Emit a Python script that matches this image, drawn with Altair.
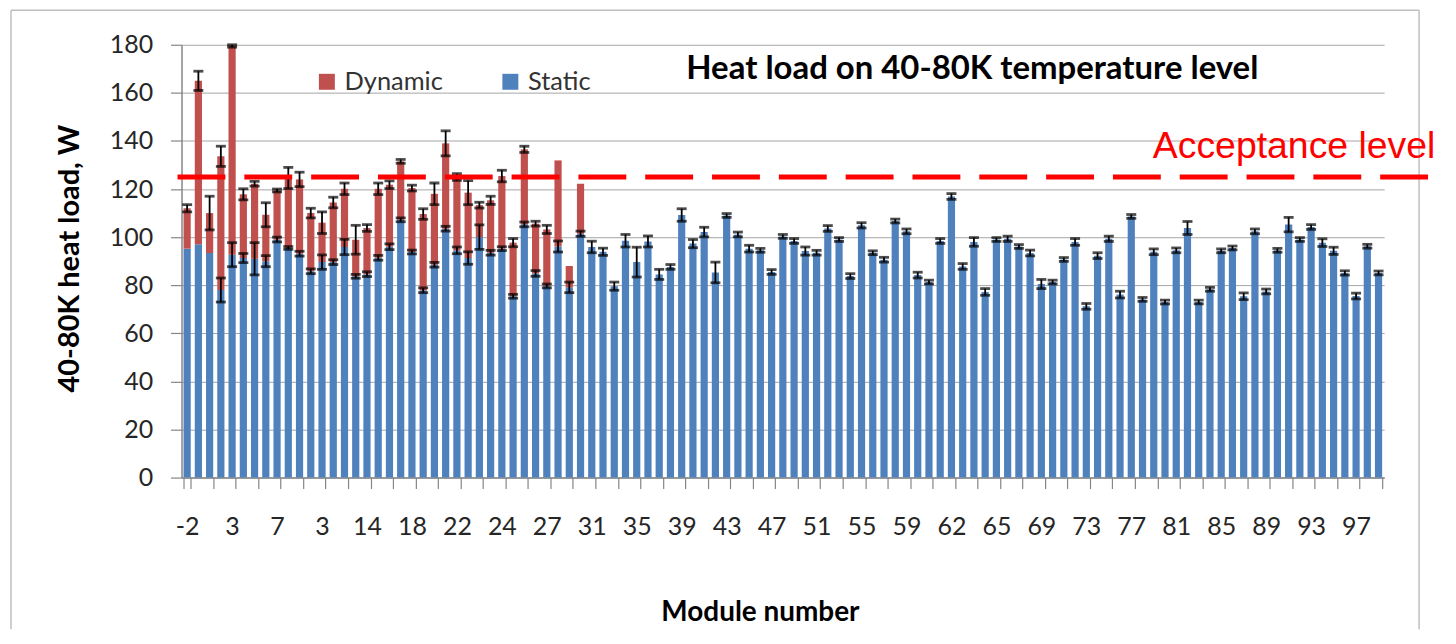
import altair as alt
import pandas as pd

# ---------------- data ----------------
tick_labels = ["-2", "3", "7", "3", "14", "18", "22", "24", "27", "31", "35", "39", "43", "47",
               "51", "55", "59", "62", "65", "69", "73", "77", "81", "85", "89", "93", "97"]

static = [95.2, 97, 93.4, 78, 92.7, 91.3, 91, 90, 99, 95.5,
          93.1, 85.8, 89.6, 89.6, 95.9, 83.7, 84.6, 91.4, 96, 107.2,
          93.8, 77.9, 88.5, 103.5, 94.5, 91.3, 100, 93.5, 95.2, 75.4,
          105.3, 84.9, 79.7, 96.1, 79.1, 101.4, 95.9, 93.9, 79.6, 98.5,
          89.6, 98.2, 84.5, 87.6, 109.2, 97.3, 102.1, 85.3, 109, 101.1,
          95.2, 94.5, 85.5, 100.3, 98.4, 94.2, 93.5, 103.6, 99, 83.8,
          104.9, 93.5, 90.6, 106.7, 102.4, 84.2, 81.3, 98.4, 116.9, 87.8,
          98, 77.2, 99, 99.3, 96.1, 93.4, 80.5, 81.3, 90.7, 98,
          71.2, 92.3, 99.3, 76.1, 108.6, 74.1, 93.9, 73, 94.5, 103.8,
          73, 78.3, 94.3, 95.5, 75.4, 102.4, 77.4, 94.5, 105.2, 99,
          104.2, 97.7, 94.3, 85.1, 75.5, 96.2, 85.1]

static_err = [0, 0, 0, 5, 5, 1.9, 6.7, 2.3, 1, 0.6,
              1, 1, 3, 1, 3.2, 0.8, 1, 1, 1.2, 0.8,
              0.8, 1, 1, 1, 1.4, 2.6, 5.1, 1, 0.8, 0.8,
              1, 1.2, 0.8, 2.3, 2.2, 1.1, 2.4, 1.5, 1.7, 2.6,
              6.2, 2.3, 2.1, 1, 2.6, 1.7, 2, 4.3, 0.8, 1,
              1.4, 0.8, 1, 0.8, 1, 1.7, 1, 1.2, 0.8, 1,
              1.1, 0.8, 1, 0.8, 1, 1.2, 0.8, 1, 1.2, 1.2,
              1.8, 1.4, 0.8, 1.1, 0.8, 1.2, 1.9, 0.8, 0.8, 1.4,
              1.2, 1.2, 1.1, 1.4, 0.8, 0.8, 1.2, 0.8, 1, 2.7,
              0.8, 0.8, 0.8, 0.8, 1.4, 1, 1, 0.8, 3, 0.8,
              1, 1.6, 1.5, 0.9, 1.2, 0.8, 0.8]

# top of the stacked (static + dynamic) column, first modules only
total = [112, 165, 110, 133.6, 179.5, 117.8, 122.2, 109.3, 119.4, 124.6,
         124, 110, 106, 114.4, 120.1, 98.9, 103.8, 120.1, 121.8, 131.5,
         120.4, 109.6, 118, 139, 125, 118.5, 113.3, 115.3, 125.4, 97.7,
         136.5, 105.6, 103.2, 131.9, 88, 122.2]

total_err = [1.5, 4, 7, 4.2, 0.5, 2.3, 1, 5, 0.6, 4.4,
             3, 2, 4.5, 2.2, 2.4, 6, 1.4, 2.4, 1.6, 0.8,
             1.2, 2.2, 4.5, 5.2, 1.4, 5, 1.2, 1.7, 2.4, 1.7,
             1.3, 1, 1.7, 0, 0, 0]

acceptance = [125]
series_names = ["Dynamic", "Static"]
series_colors = ["#c0504d", "#4f81bd"]

# ---------------- tables ----------------
n = len(static)
bar_rows = []
for i in range(n):
    bar_rows.append({"idx": i, "series": "Static", "lo": 0, "hi": static[i]})
    if i < len(total):
        bar_rows.append({"idx": i, "series": "Dynamic", "lo": static[i], "hi": total[i]})
bars_df = pd.DataFrame(bar_rows)

err_rows = []
for i in range(n):
    if static_err[i] > 0:
        err_rows.append({"idx": i, "center": static[i], "err": static_err[i]})
    if i < len(total) and total_err[i] > 0:
        err_rows.append({"idx": i, "center": total[i], "err": total_err[i]})
err_df = pd.DataFrame(err_rows)

W, H = 1206, 434
YT = "40-80K heat load, W"
XT = "Module number"
FONT = "Lato"

label_arr = "[" + ",".join("'" + s + "'" for s in tick_labels) + "]"
label_expr = f"datum.value % 4 == 0 ? {label_arr}[floor(datum.value / 4)] : ''"

x_axis = alt.Axis(values=list(range(0, n, 2)), labelExpr=label_expr, labelAngle=0,
                  labelOverlap=False, tickBand="extent", grid=False,
                  domainColor="#868686", domainWidth=1.5, tickColor="#868686",
                  tickSize=11, tickWidth=1.2, labelFont=FONT, labelFontSize=25,
                  labelColor="#262626", labelPadding=26,
                  titleFont=FONT, titleFontSize=28, titleFontWeight="bold",
                  titleColor="black", titleX=580, titleY=143,
                  titleAlign="center", titleBaseline="alphabetic")

y_axis = alt.Axis(values=list(range(0, 181, 20)), grid=True, gridColor="#a6a6a6",
                  gridWidth=1, domainColor="#868686", domainWidth=1.5,
                  tickColor="#868686", tickSize=11, tickWidth=1.2,
                  labelFont=FONT, labelFontSize=25, labelColor="#262626",
                  labelPadding=18, titleFont=FONT, titleFontSize=29,
                  titleFontWeight="bold", titleColor="black", titleX=-103,
                  titleY=214, titleAlign="center", titleBaseline="alphabetic")

x_scale = alt.Scale(paddingInner=0.36, paddingOuter=0.18)
y_scale = alt.Scale(domain=[0, 180], nice=False)

bars = alt.Chart(bars_df).mark_bar().encode(
    x=alt.X("idx:O", scale=x_scale, axis=x_axis, title=XT),
    y=alt.Y("lo:Q", scale=y_scale, axis=y_axis, title=YT),
    y2="hi:Q",
    color=alt.Color("series:N",
                    scale=alt.Scale(domain=series_names, range=series_colors),
                    legend=alt.Legend(orient="none", legendX=133, legendY=24,
                                      direction="horizontal", title=None,
                                      symbolType="square", symbolSize=256,
                                      symbolStrokeWidth=0, labelFont=FONT,
                                      labelFontSize=25.5, labelColor="#333333",
                                      labelOffset=5, columnPadding=54, padding=0)),
)

err_base = alt.Chart(err_df).transform_calculate(
    elo="datum.center - datum.err", ehi="datum.center + datum.err")

stems = err_base.mark_rule(color="black", strokeWidth=1.8).encode(
    x=alt.X("idx:O", title=XT),
    y=alt.Y("elo:Q", title=YT),
    y2="ehi:Q",
)
caps_lo = err_base.mark_tick(color="black", thickness=2.8, size=10).encode(
    x=alt.X("idx:O", title=XT),
    y=alt.Y("elo:Q", title=YT),
)
caps_hi = err_base.mark_tick(color="black", thickness=2.8, size=10).encode(
    x=alt.X("idx:O", title=XT),
    y=alt.Y("ehi:Q", title=YT),
)

accept_rule = alt.Chart(pd.DataFrame({"level": acceptance})).mark_rule(
    color="#ff0000", strokeWidth=5, strokeDash=[48, 19]).encode(
    y=alt.Y("level:Q", title=YT),
    x=alt.value(-4), x2=alt.value(1267),
)

accept_text = alt.Chart(pd.DataFrame({"t": ["Acceptance level"]})).mark_text(
    font="Liberation Sans", fontSize=37.5, color="#ff0000", align="left",
    baseline="alphabetic").encode(text="t:N", x=alt.value(974), y=alt.value(114))

title_text = alt.Chart(pd.DataFrame({"t": ["Heat load on 40-80K temperature level"]})).mark_text(
    font=FONT, fontSize=33, fontWeight="bold", color="black", align="center",
    baseline="alphabetic").encode(text="t:N", x=alt.value(793), y=alt.value(34))

frame_df = pd.DataFrame({"f": [0]})
frame_top = alt.Chart(frame_df).mark_rule(color="#bfbfbf", strokeWidth=1.5).encode(
    x=alt.value(-171), x2=alt.value(1241), y=alt.value(-34.5))
frame_left = alt.Chart(frame_df).mark_rule(color="#bfbfbf", strokeWidth=1.5).encode(
    x=alt.value(-171), y=alt.value(-34.5), y2=alt.value(586))
frame_right = alt.Chart(frame_df).mark_rule(color="#bfbfbf", strokeWidth=1.5).encode(
    x=alt.value(1241), y=alt.value(-34.5), y2=alt.value(586))

chart = alt.layer(
    frame_top, frame_left, frame_right,
    bars, stems, caps_lo, caps_hi, accept_rule, accept_text, title_text,
).properties(
    width=W, height=H,
    padding={"left": 2, "top": 0, "right": 0, "bottom": 0},
    background="white",
).configure_view(strokeWidth=0)

chart.save("out.html", embed_options={"renderer": "svg", "actions": False})
